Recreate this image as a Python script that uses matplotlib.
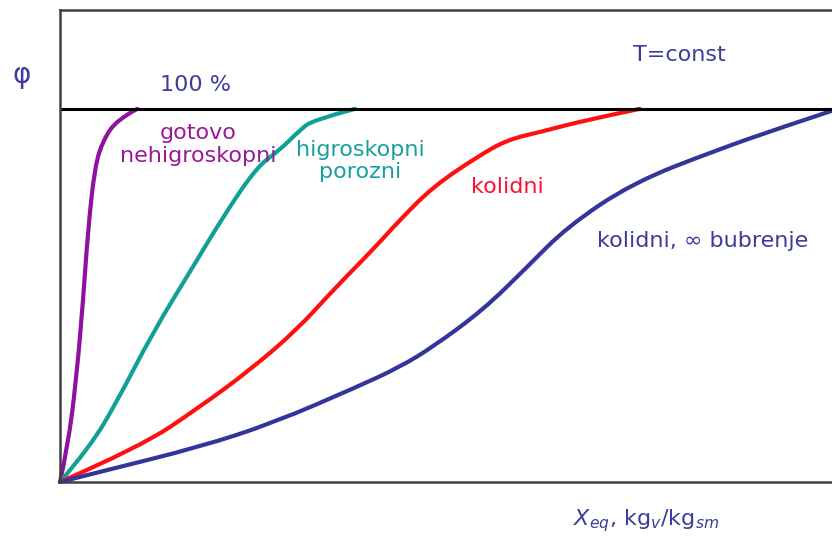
import matplotlib.pyplot as plt
from matplotlib.path import Path
from matplotlib.patches import PathPatch
import numpy as np

# x as fraction of the axis length, phi in %
x_purple = [0, 0.010, 0.021, 0.030, 0.036, 0.045, 0.056, 0.074, 0.100]
phi_purple = [0, 9.4, 27.3, 48.8, 66.8, 84.5, 91.7, 97.1, 100]

x_teal = [0, 0.039, 0.075, 0.120, 0.172, 0.211, 0.255, 0.285, 0.311, 0.328, 0.382]
phi_teal = [0, 9.4, 22.0, 40.0, 57.6, 71.0, 84.5, 89.0, 94.4, 97.0, 100]

x_red = [0, 0.104, 0.181, 0.246, 0.307, 0.354, 0.405, 0.440, 0.483, 0.540,
         0.579, 0.622, 0.683, 0.751]
phi_red = [0, 9.4, 20.1, 30.0, 40.8, 51.5, 62.2, 70.2, 79.1, 87.1,
           91.7, 93.8, 97.1, 100]

x_blue = [0, 0.061, 0.181, 0.276, 0.385, 0.440, 0.483, 0.548, 0.605, 0.657,
          0.742, 0.851, 0.937, 1.0]
phi_blue = [0, 3.2, 9.4, 15.8, 25.5, 30.8, 36.2, 46.1, 57.6, 68.4,
            80.2, 89.0, 95.2, 99.5]

curves = [
    (x_purple, phi_purple, '#9010a0'),
    (x_teal, phi_teal, '#10a098'),
    (x_red, phi_red, '#ff1010'),
    (x_blue, phi_blue, '#33359a'),
]

navy = '#3c3c9c'
plt.rcParams['font.family'] = ['DejaVu Sans']


def smooth_path(xs, ys):
    # quadratic bezier through midpoints, read points act as control points
    pts = np.column_stack([xs, ys])
    verts = [pts[0]]
    codes = [Path.MOVETO]
    for i in range(1, len(pts) - 1):
        mid = (pts[i] + pts[i + 1]) / 2 if i < len(pts) - 2 else pts[i + 1]
        verts += [pts[i], mid]
        codes += [Path.CURVE3, Path.CURVE3]
    if len(pts) == 2:
        verts.append(pts[1])
        codes.append(Path.LINETO)
    return Path(verts, codes)


fig = plt.figure(figsize=(8.32, 5.37), dpi=100)
ax = fig.add_axes([60 / 832, 55 / 537, 772 / 832, 472 / 537])

for xs, ys, c in curves:
    patch = PathPatch(smooth_path(xs, ys), facecolor='none', edgecolor=c,
                      lw=3, capstyle='round', joinstyle='round', clip_on=False)
    ax.add_patch(patch)

ax.axhline(100, color='black', lw=2.2)

ax.set_xlim(0, 1)
ax.set_ylim(0, 126.5)
ax.set_xticks([])
ax.set_yticks([])
ax.spines['right'].set_visible(False)
for s in ['left', 'bottom', 'top']:
    ax.spines[s].set_color('#404040')
    ax.spines[s].set_linewidth(1.8)

fs = 16
ax.text(0.175, 106.5, '100 %', color=navy, fontsize=fs, ha='center', va='center')
ax.text(0.802, 114.5, 'T=const', color=navy, fontsize=fs, ha='center', va='center')
ax.text(0.179, 90.5, 'gotovo\nnehigroskopni', color='#9a189a', fontsize=fs,
        ha='center', va='center', linespacing=1.15)
ax.text(0.389, 86, 'higroskopni\nporozni', color='#18a0a0', fontsize=fs,
        ha='center', va='center', linespacing=1.15)
ax.text(0.579, 79, 'kolidni', color='#ff1030', fontsize=fs, ha='center', va='center')
ax.text(0.833, 64.7, 'kolidni, \u221e bubrenje', color=navy, fontsize=fs,
        ha='center', va='center')

fig.text(22 / 832, 1 - 75 / 537, '\u03c6', color=navy, fontsize=20,
         ha='center', va='center')
fig.text(646 / 832, 1 - 521 / 537, r'$X_{eq}$, kg$_v$/kg$_{sm}$', color=navy,
         fontsize=16, ha='center', va='center')

fig.savefig('out.png', dpi=100)
